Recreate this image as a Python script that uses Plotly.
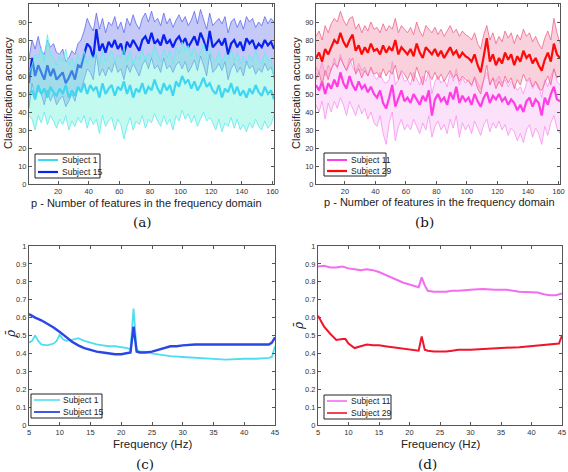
import plotly.graph_objects as go

# ---------------- Panel (a)/(b): accuracy vs number of features ----------------
p = list(range(1, 162, 2))

s15_mean = [56,70,60,66,62,58,66,60,64,58,
            60,62,56,59,63,58,66,65,72,78,
            76,70,86,74,78,73,79,76,80,75,
            78,72,79,76,80,77,74,80,82,78,
            84,78,80,77,83,78,80,76,80,82,
            78,81,76,79,82,77,84,80,74,85,
            76,78,80,77,81,72,78,80,76,79,
            74,81,78,80,75,78,76,80,77,79,
            75]
s15_up = [70,80,75,82,74,72,80,76,78,73,
          72,75,68,70,74,72,78,80,85,92,
          88,85,95,86,92,84,90,88,93,86,
          90,84,92,88,94,89,86,92,95,90,
          96,90,92,88,95,89,92,87,91,94,
          90,93,88,91,96,89,97,92,86,95,
          88,90,92,89,93,84,90,92,87,91,
          86,93,90,92,87,90,88,93,89,92,
          90]
s15_lo = [42,56,48,52,50,44,52,46,50,44,
          47,49,43,46,50,46,53,52,58,64,
          62,58,72,60,64,60,65,62,68,62,
          64,58,66,62,67,63,60,66,69,64,
          70,64,66,62,70,64,66,62,66,68,
          64,68,62,65,69,63,71,66,60,72,
          62,64,67,63,68,58,64,67,62,65,
          60,68,64,66,61,64,62,67,63,65,
          60]
s1_mean = [50,52,47,55,50,53,48,54,51,49,
           53,50,55,48,52,49,54,51,56,50,
           55,52,54,48,56,50,53,55,49,54,
           52,57,50,55,48,53,51,56,50,54,
           52,58,53,50,56,52,55,49,57,54,
           60,56,58,53,57,52,55,59,54,56,
           52,50,55,48,53,51,56,50,54,49,
           52,48,53,50,55,51,49,54,50,52,
           47]
s1_up = [62,66,72,70,76,68,83,72,70,66,
         72,68,75,66,70,65,72,68,74,67,
         72,70,73,66,75,68,71,74,67,72,
         70,76,68,74,66,72,69,75,68,73,
         70,77,72,68,75,70,74,67,76,72,
         79,74,77,71,76,70,73,78,72,75,
         70,68,74,66,72,69,75,68,73,67,
         71,66,72,68,74,69,67,73,68,70,
         58]
s1_lo = [38,36,30,38,34,40,33,38,35,31,
         36,33,38,30,35,32,37,34,38,31,
         37,33,36,28,38,32,35,37,30,36,
         33,25,32,37,30,35,33,38,31,36,
         34,39,35,32,38,33,36,30,38,35,
         41,36,39,34,38,32,36,40,35,37,
         34,30,36,29,34,32,37,31,36,30,
         33,29,34,31,36,32,30,35,31,33,
         38]

s29_mean = [70,73,68,75,72,76,80,78,84,79,
            76,80,83,74,77,72,76,73,78,74,
            75,72,77,73,76,74,80,72,76,74,
            72,75,71,78,73,70,76,74,72,75,
            71,74,70,73,76,72,74,70,73,71,
            70,68,72,66,62,71,81,68,72,66,
            70,67,73,69,72,66,71,68,74,70,
            72,67,70,66,63,69,73,68,78,72,
            70]
s29_up = [82,85,80,88,84,89,92,90,96,91,
          88,92,93,86,89,84,88,85,90,86,
          87,84,89,85,88,86,92,84,88,86,
          84,87,83,90,85,82,88,86,84,87,
          83,86,82,85,88,84,86,82,85,83,
          82,80,84,78,75,83,88,80,84,78,
          82,79,85,81,84,78,83,80,86,82,
          84,79,82,78,75,81,85,80,92,84,
          78]
s29_lo = [58,62,55,63,58,64,67,65,70,66,
          63,67,70,61,64,59,63,60,65,61,
          62,59,64,60,63,61,66,58,63,61,
          58,62,57,65,60,55,63,61,58,62,
          58,61,57,60,63,59,61,57,60,58,
          57,55,59,53,50,58,66,55,59,53,
          57,54,60,56,59,53,58,55,61,57,
          59,54,57,53,52,56,60,55,64,59,
          60]
s11_mean = [55,52,57,50,56,53,58,54,62,56,
            53,60,55,52,57,53,55,51,54,50,
            48,52,45,42,48,55,43,47,52,46,
            48,45,50,47,44,49,46,52,38,47,
            50,46,48,44,51,47,54,45,49,46,
            48,44,50,46,43,48,51,45,49,47,
            50,46,48,44,47,45,41,44,40,46,
            48,43,47,45,38,48,44,50,54,47,
            46]
s11_up = [65,62,68,60,66,63,70,64,72,66,
          63,70,65,62,67,63,65,60,64,60,
          58,62,57,56,58,68,55,58,62,57,
          58,55,62,58,55,60,57,63,50,57,
          60,56,58,54,62,57,64,55,59,56,
          58,54,60,56,53,58,62,55,59,57,
          60,56,58,54,57,55,52,54,50,56,
          58,53,57,55,48,58,54,60,64,57,
          55]
s11_lo = [44,40,46,36,45,40,46,42,48,44,
          38,46,42,38,44,39,42,36,40,34,
          32,38,28,22,34,40,24,32,36,30,
          33,30,36,32,28,34,30,38,26,32,
          35,30,33,28,36,31,38,26,34,30,
          33,28,35,31,27,33,36,29,34,31,
          35,30,33,27,31,29,24,28,23,30,
          33,26,31,28,22,32,27,34,38,31,
          28]

# ---------------- Panel (c)/(d): rho vs frequency ----------------
freq_c1 = [5,5.5,6,6.5,7,8,9,9.5,10,10.5,11,12,13,14,15,16,17,18,19,20,21,21.5,22,22.5,23,24,25,26,27,28,30,32,35,37,40,42,44,44.5,45]
rho_s1 = [0.46,0.47,0.50,0.47,0.45,0.445,0.455,0.47,0.505,0.48,0.47,0.475,0.485,0.47,0.46,0.45,0.445,0.44,0.44,0.435,0.43,0.42,0.65,0.42,0.41,0.41,0.40,0.395,0.39,0.385,0.38,0.375,0.37,0.365,0.37,0.37,0.375,0.38,0.44]
freq_c15 = [5,6,7,8,9,10,11,12,13,14,15,16,17,18,19,20,21,21.5,22,22.5,23,24,25,26,27,28,29,30,32,35,38,40,42,44,44.5,45]
rho_s15 = [0.62,0.60,0.585,0.565,0.545,0.52,0.49,0.465,0.445,0.43,0.42,0.41,0.405,0.40,0.395,0.395,0.40,0.405,0.55,0.41,0.405,0.405,0.41,0.42,0.43,0.44,0.44,0.445,0.45,0.45,0.45,0.45,0.45,0.45,0.46,0.49]
freq_d11 = [5,6,7,8,9,10,11,12,13,14,15,16,17,18,19,20,21,21.5,22,22.5,23,24,25,26,27,28,30,32,34,36,38,40,41,42,43,44,45]
rho_s11 = [0.885,0.89,0.88,0.88,0.885,0.875,0.87,0.865,0.87,0.865,0.855,0.84,0.825,0.81,0.795,0.785,0.775,0.77,0.825,0.78,0.75,0.745,0.745,0.745,0.75,0.75,0.755,0.76,0.755,0.755,0.745,0.74,0.74,0.73,0.725,0.725,0.735]
freq_d29 = [5,6,7,8,9,9.5,10,11,12,13,14,15,16,17,18,19,20,21,21.5,22,22.5,23,24,25,26,27,28,30,32,35,38,40,42,43,44,44.5,45]
rho_s29 = [0.61,0.55,0.51,0.475,0.48,0.48,0.455,0.43,0.44,0.45,0.445,0.445,0.44,0.435,0.43,0.425,0.42,0.415,0.415,0.495,0.42,0.415,0.41,0.41,0.41,0.415,0.42,0.42,0.425,0.43,0.435,0.44,0.445,0.45,0.45,0.455,0.50]

acc_ticks = list(range(0, 101, 10))
p_ticks = list(range(20, 161, 20))
f_ticks = list(range(5, 46, 5))
rho_ticks = [0, 0.1, 0.2, 0.3, 0.4, 0.5, 0.6, 0.7, 0.8, 0.9, 1]
rho_labels = ["0", "0.1", "0.2", "0.3", "0.4", "0.5", "0.6", "0.7", "0.8", "0.9", "1"]

C_S1, C_S15, C_S11, C_S29 = "#3fd6f2", "#0a22f0", "#ff3ce6", "#ff0a0a"
C_S1c, C_S15c, C_S11d, C_S29d = "#4fdef0", "#2a46e6", "#f46cf0", "#f0142c"

fig = go.Figure()

def band(xa, ya, x, lo, up, mean, line_c, edge_c, fill_c, mw=2.2):
    fig.add_trace(go.Scatter(x=x, y=lo, mode="lines", line=dict(color=edge_c, width=1),
                             showlegend=False, hoverinfo="skip", xaxis=xa, yaxis=ya))
    fig.add_trace(go.Scatter(x=x, y=up, mode="lines", line=dict(color=edge_c, width=1),
                             fill="tonexty", fillcolor=fill_c,
                             showlegend=False, hoverinfo="skip", xaxis=xa, yaxis=ya))
    fig.add_trace(go.Scatter(x=x, y=mean, mode="lines", line=dict(color=line_c, width=mw),
                             showlegend=False, xaxis=xa, yaxis=ya))

# (a)
band("x", "y", p, s15_lo, s15_up, s15_mean, C_S15,
     "rgba(90,100,235,0.75)", "rgba(110,120,235,0.40)")
band("x", "y", p, s1_lo, s1_up, s1_mean, C_S1,
     "rgba(100,235,240,0.85)", "rgba(120,245,220,0.45)")
# (b)
band("x2", "y2", p, s11_lo, s11_up, s11_mean, C_S11,
     "rgba(248,150,240,0.85)", "rgba(250,200,245,0.55)")
band("x2", "y2", p, s29_lo, s29_up, s29_mean, C_S29,
     "rgba(240,100,140,0.8)", "rgba(240,140,170,0.40)")

# (c)
fig.add_trace(go.Scatter(x=freq_c1, y=rho_s1, mode="lines", showlegend=False,
                         line=dict(color=C_S1c, width=1.8), xaxis="x3", yaxis="y3"))
fig.add_trace(go.Scatter(x=freq_c15, y=rho_s15, mode="lines", showlegend=False,
                         line=dict(color=C_S15c, width=2.4), xaxis="x3", yaxis="y3"))
# (d)
fig.add_trace(go.Scatter(x=freq_d11, y=rho_s11, mode="lines", showlegend=False,
                         line=dict(color=C_S11d, width=2), xaxis="x4", yaxis="y4"))
fig.add_trace(go.Scatter(x=freq_d29, y=rho_s29, mode="lines", showlegend=False,
                         line=dict(color=C_S29d, width=2), xaxis="x4", yaxis="y4"))

W, H = 568, 472
def px(v): return v / W
def py(v): return 1 - v / H

tickfont = dict(family="Liberation Sans, Arial", size=7.5, color="#333")
ax_common = dict(showline=True, mirror="ticks", linecolor="#555", linewidth=1,
                 ticks="inside", ticklen=3, tickcolor="#555", tickfont=tickfont,
                 showgrid=False, zeroline=False, automargin=False)

fig.update_layout(
    width=W, height=H, margin=dict(l=0, r=0, t=0, b=0, autoexpand=False),
    paper_bgcolor="white", plot_bgcolor="white", showlegend=False,
    xaxis=dict(domain=[px(29), px(274)], anchor="y", range=[1, 161], tickvals=p_ticks, **ax_common),
    yaxis=dict(domain=[py(184), py(4)], anchor="x", range=[0, 100], tickvals=acc_ticks, **ax_common),
    xaxis2=dict(domain=[px(316), px(560)], anchor="y2", range=[1, 161], tickvals=p_ticks, **ax_common),
    yaxis2=dict(domain=[py(184), py(4)], anchor="x2", range=[0, 100], tickvals=acc_ticks, **ax_common),
    xaxis3=dict(domain=[px(29), px(275)], anchor="y3", range=[5, 45], tickvals=f_ticks, **ax_common),
    yaxis3=dict(domain=[py(425), py(246)], anchor="x3", range=[0, 1], tickvals=rho_ticks,
                ticktext=rho_labels, **ax_common),
    xaxis4=dict(domain=[px(318), px(562)], anchor="y4", range=[5, 45], tickvals=f_ticks, **ax_common),
    yaxis4=dict(domain=[py(425), py(246)], anchor="x4", range=[0, 1], tickvals=rho_ticks,
                ticktext=rho_labels, **ax_common),
)

sans = "Liberation Sans, Arial"
def label(text, x, y, size, angle=0, family=sans, color="#222"):
    fig.add_annotation(text=text, x=px(x), y=py(y), xref="paper", yref="paper",
                       showarrow=False, textangle=angle, borderpad=0,
                       font=dict(family=family, size=size, color=color),
                       xanchor="center", yanchor="middle")

# axis titles
xt = "p - Number of features in the frequency domain"
label(xt, 146, 202.5, 11)
label(xt, 439, 202, 11)
label("Classification accuracy", 8, 93, 11, angle=-90)
label("Classification accuracy", 296, 93, 11, angle=-90)
label("Frequency (Hz)", 152, 444, 11.5)
label("Frequency (Hz)", 440, 444, 11.5)
label("<i>ρ̄</i>", 11, 334, 12, angle=-90, family="DejaVu Serif")
label("<i>ρ̄</i>", 299, 326, 12, angle=-90, family="DejaVu Serif")

# panel captions
serif = "DejaVu Serif, Liberation Serif"
for txt, x, y in [("(a)", 142, 222), ("(b)", 424, 222), ("(c)", 145, 464), ("(d)", 427, 464)]:
    label(txt, x, y, 13.5, family=serif, color="#111")

# legends (box, line samples, real text)
def legend(box, rows, lx0, lx1, tx, entries, fs=8.5):
    x0, y0, x1, y1 = box
    fig.add_shape(type="rect", xref="paper", yref="paper",
                  x0=px(x0), x1=px(x1), y0=py(y1), y1=py(y0),
                  line=dict(color="#222", width=1), fillcolor="white", layer="above")
    for (name, col, w), ry in zip(entries, rows):
        fig.add_shape(type="line", xref="paper", yref="paper",
                      x0=px(lx0), x1=px(lx1), y0=py(ry), y1=py(ry),
                      line=dict(color=col, width=w), layer="above")
        fig.add_annotation(text=name, x=px(tx), y=py(ry), xref="paper", yref="paper",
                           showarrow=False, xanchor="left", yanchor="middle", borderpad=0,
                           font=dict(family=sans, size=fs, color="#222"))

legend((35, 154, 100, 178), (160, 172), 38, 58, 61,
       [("Subject 1", C_S1, 2), ("Subject 15", C_S15, 2.2)])
legend((324, 153, 386, 176), (160, 171), 327, 347, 350,
       [("Subject 11", C_S11, 2), ("Subject 29", C_S29, 2.2)])
legend((31, 394, 102, 418), (400, 412), 34, 60, 62,
       [("Subject 1", C_S1c, 1.6), ("Subject 15", C_S15c, 1.8)])
legend((324, 395, 391, 419), (401, 413), 327, 347, 350,
       [("Subject 11", C_S11d, 1.6), ("Subject 29", C_S29d, 1.6)])

fig.write_html("out.html", config={"displayModeBar": False},
               post_script="document.body.style.margin='0px';document.body.style.overflow='hidden';")
